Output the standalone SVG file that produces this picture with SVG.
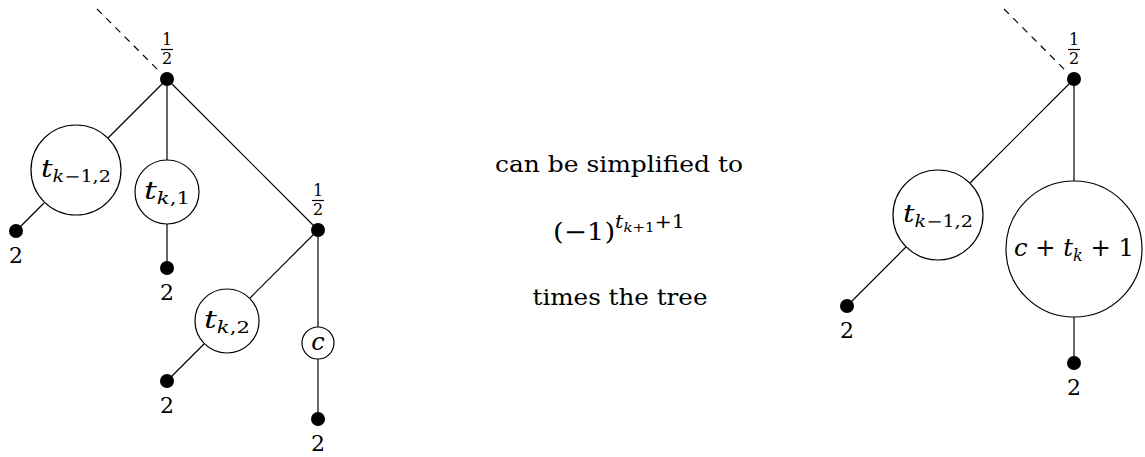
<svg xmlns="http://www.w3.org/2000/svg" width="1145" height="457" viewBox="0 0 1145 457" font-family="DejaVu Serif, serif">
<style>
.e{stroke:#000;stroke-width:1.2;fill:none}
.d{stroke:#000;stroke-width:1.2;fill:none;stroke-dasharray:7,6}
.c{fill:#fff;stroke:#000;stroke-width:1.2}
.dot{fill:#000}
.lbl{font-size:22px;text-anchor:middle}
.fr{font-size:16px;text-anchor:middle}
.m{font-size:22px;text-anchor:middle}
.i{font-style:italic}
.s{font-size:16px}
.t{font-size:24px;text-anchor:middle}
</style>
<g id="connectors">
<line class="d" x1="97" y1="9" x2="161" y2="73"/>
<line class="e" x1="167" y1="79" x2="108" y2="138"/>
<line class="e" x1="44" y1="203" x2="16" y2="231"/>
<line class="e" x1="167" y1="79" x2="167" y2="160"/>
<line class="e" x1="167" y1="224" x2="167" y2="268"/>
<line class="e" x1="167" y1="79" x2="318" y2="230"/>
<line class="e" x1="318" y1="230" x2="250" y2="298"/>
<line class="e" x1="204" y1="344" x2="167" y2="381"/>
<line class="e" x1="318" y1="230" x2="318" y2="327"/>
<line class="e" x1="318" y1="359" x2="318" y2="419"/>
<line class="d" x1="1004" y1="9" x2="1068" y2="73"/>
<line class="e" x1="1074" y1="79" x2="970" y2="183"/>
<line class="e" x1="906" y1="247" x2="847" y2="306"/>
<line class="e" x1="1074" y1="79" x2="1074" y2="181"/>
<line class="e" x1="1074" y1="317" x2="1074" y2="363"/>
</g>
<g id="n_root1">
<circle class="dot" cx="167" cy="79" r="7"/>
<text class="fr" x="167" y="45">1</text>
<line class="e" x1="161" y1="49.5" x2="173" y2="49.5"/>
<text class="fr" x="167" y="64">2</text>
</g>
<g id="n_tk12">
<circle class="c" cx="76" cy="170" r="45"/>
<text class="t" x="76" y="177" textLength="70" lengthAdjust="spacingAndGlyphs"><tspan class="i">t</tspan><tspan class="s" dy="5"><tspan class="i">k</tspan>−1,2</tspan></text>
</g>
<g id="n_leaf1">
<circle class="dot" cx="16" cy="231" r="7"/>
<text class="lbl" x="16" y="263">2</text>
</g>
<g id="n_tk1">
<circle class="c" cx="167" cy="192" r="32"/>
<text class="t" x="167" y="199" textLength="46" lengthAdjust="spacingAndGlyphs"><tspan class="i">t</tspan><tspan class="s" dy="5"><tspan class="i">k</tspan>,1</tspan></text>
</g>
<g id="n_leaf2">
<circle class="dot" cx="167" cy="268" r="7"/>
<text class="lbl" x="167" y="300">2</text>
</g>
<g id="n_half2">
<circle class="dot" cx="318" cy="230" r="7"/>
<text class="fr" x="318" y="196">1</text>
<line class="e" x1="312" y1="200.5" x2="324" y2="200.5"/>
<text class="fr" x="318" y="215">2</text>
</g>
<g id="n_tk2">
<circle class="c" cx="227" cy="321" r="32"/>
<text class="t" x="227" y="328" textLength="46" lengthAdjust="spacingAndGlyphs"><tspan class="i">t</tspan><tspan class="s" dy="5"><tspan class="i">k</tspan>,2</tspan></text>
</g>
<g id="n_leaf3">
<circle class="dot" cx="167" cy="381" r="7"/>
<text class="lbl" x="167" y="413">2</text>
</g>
<g id="n_c">
<circle class="c" cx="318" cy="343" r="16"/>
<text class="t i" x="318" y="350">c</text>
</g>
<g id="n_leaf4">
<circle class="dot" cx="318" cy="419" r="7"/>
<text class="lbl" x="318" y="451">2</text>
</g>
<g id="middle">
<text class="m" x="619" y="172" textLength="248" lengthAdjust="spacingAndGlyphs">can be simplified to</text>
<text x="553" y="240" font-size="24" textLength="132" lengthAdjust="spacingAndGlyphs">(−1)<tspan class="i" font-size="18" dy="-12">t</tspan><tspan font-size="13" dy="4"><tspan class="i">k</tspan>+1</tspan><tspan font-size="18" dy="-4">+1</tspan></text>
<text class="m" x="620" y="305" textLength="175" lengthAdjust="spacingAndGlyphs">times the tree</text>
</g>
<g id="n_root2">
<circle class="dot" cx="1074" cy="79" r="7"/>
<text class="fr" x="1074" y="45">1</text>
<line class="e" x1="1068" y1="49.5" x2="1080" y2="49.5"/>
<text class="fr" x="1074" y="64">2</text>
</g>
<g id="n_tk12b">
<circle class="c" cx="938" cy="215" r="45"/>
<text class="t" x="938" y="222" textLength="70" lengthAdjust="spacingAndGlyphs"><tspan class="i">t</tspan><tspan class="s" dy="5"><tspan class="i">k</tspan>−1,2</tspan></text>
</g>
<g id="n_leaf5">
<circle class="dot" cx="847" cy="306" r="7"/>
<text class="lbl" x="847" y="338">2</text>
</g>
<g id="n_ctk">
<circle class="c" cx="1074" cy="249" r="68"/>
<text class="t" x="1074" y="256" textLength="120" lengthAdjust="spacingAndGlyphs"><tspan class="i">c</tspan> + <tspan class="i">t</tspan><tspan class="s i" dy="5">k</tspan><tspan dy="-5"> + 1</tspan></text>
</g>
<g id="n_leaf6">
<circle class="dot" cx="1074" cy="363" r="7"/>
<text class="lbl" x="1074" y="395">2</text>
</g>
</svg>
